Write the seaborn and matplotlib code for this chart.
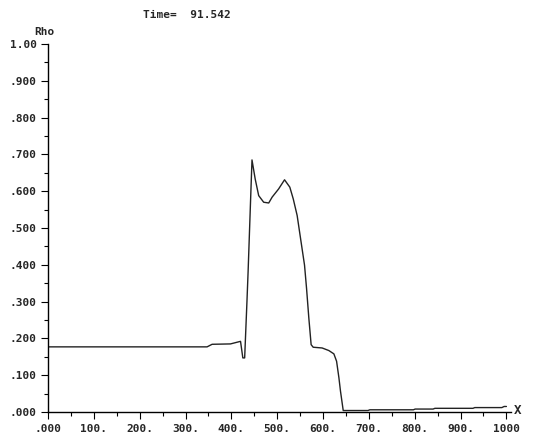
import seaborn as sns
import matplotlib.pyplot as plt
from matplotlib.ticker import MultipleLocator
import pandas as pd

# values
x = [0, 347, 358, 398, 420, 425, 429, 434, 436.5, 441.5, 445, 452, 459.6,
     470.5, 481.5, 489, 503, 516, 527.5, 535, 543.5, 551, 559.6, 564, 569,
     574, 578.5, 598, 612.6, 623.6, 629.5, 634.6, 638, 644, 698, 702, 797,
     801, 840, 844, 927, 931, 990, 995, 1000]
rho = [0.177, 0.177, 0.184, 0.185, 0.192, 0.147, 0.147, 0.300, 0.381, 0.561,
       0.685, 0.633, 0.588, 0.570, 0.568, 0.584, 0.606, 0.631, 0.611, 0.579,
       0.534, 0.471, 0.399, 0.336, 0.255, 0.183, 0.176, 0.174, 0.167, 0.158,
       0.138, 0.093, 0.057, 0.004, 0.004, 0.006, 0.006, 0.008, 0.008, 0.010,
       0.010, 0.012, 0.012, 0.015, 0.015]

xticks = [0, 100, 200, 300, 400, 500, 600, 700, 800, 900, 1000]
xlabels = [".000", "100.", "200.", "300.", "400.", "500.", "600.", "700.",
           "800.", "900.", "1000"]
yticks = [0.0, 0.1, 0.2, 0.3, 0.4, 0.5, 0.6, 0.7, 0.8, 0.9, 1.0]
ylabels = [".000", ".100", ".200", ".300", ".400", ".500", ".600", ".700",
           ".800", ".900", "1.00"]

df = pd.DataFrame({"X": x, "Rho": rho})

sns.set_style("ticks")
plt.rcParams["font.family"] = ["DejaVu Sans Mono"]
plt.rcParams["font.weight"] = "bold"

fig = plt.figure(figsize=(5.36, 4.38), dpi=100)
ax = fig.add_axes([48 / 536, 26 / 438, 463 / 536, 368 / 438])

sns.lineplot(data=df, x="X", y="Rho", ax=ax, color="#222222", lw=1.0,
             estimator=None, sort=False)

ax.set_xlim(0, 1010)
ax.set_ylim(0, 1.0)
ax.set_xticks(xticks)
ax.set_xticklabels(xlabels, fontsize=8, fontweight="bold")
ax.set_yticks(yticks)
ax.set_yticklabels(ylabels, fontsize=8, fontweight="bold")
ax.xaxis.set_minor_locator(MultipleLocator(50))
ax.yaxis.set_minor_locator(MultipleLocator(0.05))
ax.tick_params(which="major", direction="out", length=5, width=0.8,
               color="black", pad=3)
ax.tick_params(which="minor", direction="out", length=3, width=0.8,
               color="black")
ax.tick_params(axis="x", which="major", pad=4)
ax.set_xlabel("")
ax.set_ylabel("")

sns.despine(ax=ax)
for s in ["left", "bottom"]:
    ax.spines[s].set_linewidth(1.0)
    ax.spines[s].set_color("black")

fig.text(44 / 536, 1 - 32 / 438, "Rho", ha="center", va="center",
         fontsize=8, fontweight="bold")
fig.text(187 / 536, 1 - 15 / 438, "Time=  91.542", ha="center", va="center",
         fontsize=8, fontweight="bold")
fig.text(518 / 536, 1 - 411 / 438, "X", ha="center", va="center",
         fontsize=9, fontweight="bold")

plt.savefig("out.png", dpi=100)
plt.close()
